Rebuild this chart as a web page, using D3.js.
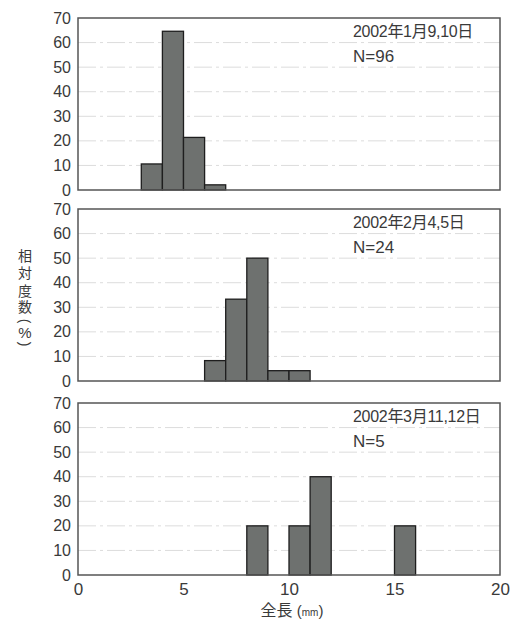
<!doctype html>
<html>
<head>
<meta charset="UTF-8">
<title>全長組成</title>
<script src="https://d3js.org/d3.v7.min.js"></script>
<style>
  body { margin: 0; background: #fff; }
  text { font-family: "Liberation Sans", Arial, "Noto Sans CJK JP", sans-serif; fill: #3a3a3a; }
</style>
</head>
<body>
<script>
// 階級の下限 (mm) と相対度数 (%)
var binsJan = [3, 4, 5, 6];
var valsJan = [10.6, 64.6, 21.4, 2.1];
var binsFeb = [6, 7, 8, 9, 10];
var valsFeb = [8.3, 33.3, 50, 4.2, 4.2];
var binsMar = [8, 10, 11, 15];
var valsMar = [20, 20, 40, 20];

var panelLabels = ["2002年1月9,10日", "2002年2月4,5日", "2002年3月11,12日"];
var panelN = ["N=96", "N=24", "N=5"];
var yTicks = [0, 10, 20, 30, 40, 50, 60, 70];
var xTicks = [0, 5, 10, 15, 20];

var panels = [
  { bins: binsJan, vals: valsJan, top: 18 },
  { bins: binsFeb, vals: valsFeb, top: 209 },
  { bins: binsMar, vals: valsMar, top: 403 }
];

var W = 517, H = 621;
var left = 78, right = 500, ph = 172;

var svg = d3.select("body").append("svg")
  .attr("width", W)
  .attr("height", H);

var x = d3.scaleLinear().domain([0, 20]).range([left, right]);

panels.forEach(function (p, k) {
  var y = d3.scaleLinear().domain([0, 70]).range([p.top + ph, p.top]);
  var g = svg.append("g");

  // 目盛線
  g.selectAll("line.grid")
    .data(yTicks.filter(function (t) { return t > 0 && t < 70; }))
    .enter().append("line")
    .attr("class", "grid")
    .attr("x1", left).attr("x2", right)
    .attr("y1", function (d) { return y(d); })
    .attr("y2", function (d) { return y(d); })
    .attr("stroke", "#dcdcdc")
    .attr("stroke-width", 1)
    .attr("stroke-dasharray", "18,4,3,4");

  // 棒
  g.selectAll("rect.bar")
    .data(p.vals)
    .enter().append("rect")
    .attr("class", "bar")
    .attr("x", function (d, i) { return x(p.bins[i]); })
    .attr("y", function (d) { return y(d); })
    .attr("width", function (d, i) { return x(p.bins[i] + 1) - x(p.bins[i]); })
    .attr("height", function (d) { return y(0) - y(d); })
    .attr("fill", "#6e716f")
    .attr("stroke", "#1e1e1e")
    .attr("stroke-width", 1.3);

  // 枠
  g.append("rect")
    .attr("x", left).attr("y", p.top)
    .attr("width", right - left).attr("height", ph)
    .attr("fill", "none")
    .attr("stroke", "#555")
    .attr("stroke-width", 1.5);

  // y 軸
  var yAxis = d3.axisLeft(y).tickValues(yTicks).tickSize(0).tickPadding(7);
  var ya = g.append("g").attr("transform", "translate(" + left + ",0)").call(yAxis);
  ya.select(".domain").remove();
  ya.selectAll("text")
    .style("font-size", "16px")
    .attr("fill", "#3a3a3a");

  // 注記
  g.append("text")
    .attr("x", 353).attr("y", p.top + 19)
    .style("font-size", "16px")
    .style("letter-spacing", "-0.3px")
    .text(panelLabels[k]);
  g.append("text")
    .attr("x", 353).attr("y", p.top + 44)
    .style("font-size", "17px")
    .text(panelN[k]);

  // x 軸 (最下段のみ)
  if (k === panels.length - 1) {
    var xAxis = d3.axisBottom(x).tickValues(xTicks).tickSize(0).tickPadding(8);
    var xa = g.append("g").attr("transform", "translate(0," + (p.top + ph) + ")").call(xAxis);
    xa.select(".domain").remove();
    xa.selectAll("text")
      .style("font-size", "17px")
      .attr("fill", "#3a3a3a");
  }
});

// x 軸タイトル
var xt = svg.append("text")
  .attr("x", 292).attr("y", 616)
  .attr("text-anchor", "middle")
  .style("font-size", "16px");
xt.append("tspan").text("全長");
xt.append("tspan").text(" (").style("font-size", "15px");
xt.append("tspan").text("mm").style("font-size", "10px");
xt.append("tspan").text(")").style("font-size", "15px");

// y 軸タイトル (縦書き)
var yChars = ["相", "対", "度", "数", "(", "%", ")"];
var yPos = [256, 273, 291, 307, 321, 332, 344];
yChars.forEach(function (c, i) {
  var t = svg.append("text")
    .attr("text-anchor", "middle")
    .attr("dominant-baseline", "central")
    .style("font-size", c === "%" ? "15px" : "14px")
    .text(c);
  if (c === "(" || c === ")") {
    t.attr("transform", "translate(25," + yPos[i] + ") rotate(90)");
  } else {
    t.attr("transform", "translate(25," + yPos[i] + ")");
  }
});
</script>
</body>
</html>
